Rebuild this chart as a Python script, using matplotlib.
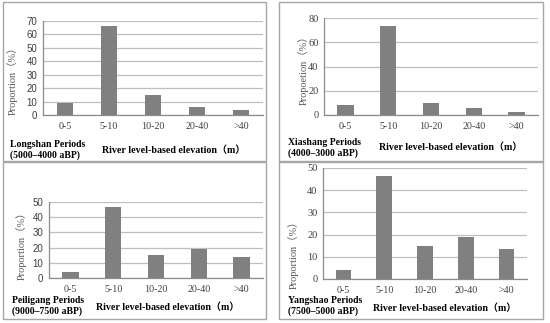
import matplotlib as mpl
mpl.use('Agg')
import matplotlib.pyplot as plt
from matplotlib.patches import Rectangle

# ---- data ----
categories = ['0-5', '5-10', '10-20', '20-40', '>40']

longshan = [9, 66, 15, 6, 3.5]
xiashang = [8.5, 73.5, 10, 5.5, 2.5]
peiligang = [4, 46.5, 15, 19, 13.5]
yangshao = [4, 46.5, 15, 19, 13.5]

titles = ['Longshan Periods\n(5000\u20134000 aBP)',
          'Xiashang Periods\n(4000\u20133000 aBP)',
          'Peiligang Periods\n(9000\u20137500 aBP)',
          'Yangshao Periods\n(7500\u20135000 aBP)']
ylabels = ['Proportion\uff08%\uff09', 'Propoetion\uff08%\uff09',
           'Proportion\uff08%\uff09', 'Proportion\uff08%\uff09']
xlabel = 'River level-based elevation\uff08m\uff09'

W, H = 550., 323.
rDPI = 100.

serif = ['Liberation Serif', 'Noto Sans CJK SC']
sans = ['Liberation Sans', 'DejaVu Sans']
mpl.rcParams['font.family'] = serif

clr_bar = '#808080'
clr_grid = '#bfbfbf'
clr_txt = '#404040'

fig = plt.figure(figsize=(W/rDPI, H/rDPI), dpi=rDPI, facecolor='w')


def fx(x): return x/W
def fy(y): return 1. - y/H


# panel borders (pixel boxes: x0, y0, x1, y1)
for (x0, y0, x1, y1) in [(3, 2, 266, 161), (279, 2, 543, 161),
                         (3, 162, 266, 319), (279, 162, 543, 319)]:
    fig.patches.append(Rectangle((fx(x0), fy(y1)), fx(x1-x0), (y1-y0)/H,
                                 transform=fig.transFigure, fill=False,
                                 edgecolor='#a6a6a6', linewidth=1.0))

# panel definitions: data, axes box in px (left, right, y_top, y_zero), ymax, ystep,
# ytick font + size, title pos, xlabel pos, ylabel pos
panels = [
    (longshan, (43, 263, 21, 115), 70, 10, sans, 7.0, (10, 150), (174, 150), (12, 78)),
    (xiashang, (324, 538, 18, 115), 80, 20, serif, 7.5, (288, 148), (451, 147), (303, 68)),
    (peiligang, (49, 263, 202, 278), 50, 10, sans, 7.0, (12, 306), (168, 307), (21, 243)),
    (yangshao, (323, 527, 168, 279), 50, 10, serif, 7.5, (288, 306), (445, 308), (293, 252)),
]

for ii, (vals, box, ymax, ystep, yfont, yfs, tpos, xlpos, ylpos) in enumerate(panels):
    left, right, ytop, y0 = box
    ax = fig.add_axes([fx(left), fy(y0), fx(right-left), (y0-ytop)/H])
    xpos = list(range(len(categories)))
    ax.bar(xpos, vals, width=0.38, color=clr_bar, zorder=3)
    ax.set_xlim(-0.5, len(categories)-0.5)
    ax.set_ylim(0, ymax)
    ax.set_yticks(list(range(0, ymax+1, ystep)))
    ax.grid(axis='y', color=clr_grid, linewidth=0.9, zorder=0)
    for s in ['top', 'right']:
        ax.spines[s].set_visible(False)
    for s in ['left', 'bottom']:
        ax.spines[s].set_color('#8c8c8c')
        ax.spines[s].set_linewidth(0.9)
    ax.set_xticks(xpos)
    ax.set_xticklabels(categories, fontsize=7.2, color=clr_txt)
    ax.tick_params(axis='x', length=0, pad=5)
    ax.tick_params(axis='y', length=0, pad=4)
    for t in ax.get_yticklabels():
        t.set_family(yfont)
        t.set_fontsize(yfs)
        t.set_color(clr_txt)
    fig.text(fx(tpos[0]), fy(tpos[1]), titles[ii], fontsize=7, fontweight='bold',
             ha='left', va='center', linespacing=1.25, color='k')
    fig.text(fx(xlpos[0]), fy(xlpos[1]), xlabel, fontsize=7.2, fontweight='bold',
             ha='center', va='center', color='k')
    fig.text(fx(ylpos[0]), fy(ylpos[1]), ylabels[ii], fontsize=7.5, rotation=90,
             ha='center', va='center', color='#595959')

plt.savefig('out.png', dpi=rDPI, facecolor='w')
plt.close(fig)
